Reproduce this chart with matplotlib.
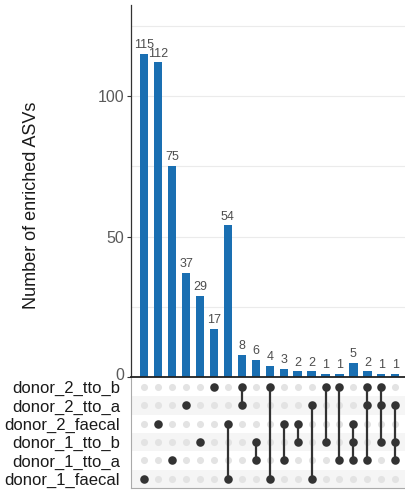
import matplotlib
matplotlib.use("Agg")
import matplotlib.pyplot as plt
import matplotlib.transforms as mtrans
import numpy as np

plt.rcParams['font.family'] = ['Liberation Sans', 'DejaVu Sans']

sets = ["donor_2_tto_b", "donor_2_tto_a", "donor_2_faecal",
        "donor_1_tto_b", "donor_1_tto_a", "donor_1_faecal"]
counts = [115, 112, 75, 37, 29, 17, 54, 8, 6, 4, 3, 2, 2, 1, 1, 5, 2, 1, 1]
members = [
    ["donor_1_faecal"],
    ["donor_2_faecal"],
    ["donor_1_tto_a"],
    ["donor_2_tto_a"],
    ["donor_1_tto_b"],
    ["donor_2_tto_b"],
    ["donor_2_faecal", "donor_1_faecal"],
    ["donor_2_tto_b", "donor_2_tto_a"],
    ["donor_1_tto_b", "donor_1_tto_a"],
    ["donor_2_tto_b", "donor_1_faecal"],
    ["donor_2_faecal", "donor_1_tto_a"],
    ["donor_2_faecal", "donor_1_tto_b"],
    ["donor_2_tto_a", "donor_1_faecal"],
    ["donor_2_tto_b", "donor_1_tto_b"],
    ["donor_2_tto_b", "donor_1_tto_a"],
    ["donor_2_faecal", "donor_1_tto_b", "donor_1_tto_a"],
    ["donor_2_tto_b", "donor_2_tto_a", "donor_1_tto_a"],
    ["donor_2_tto_b", "donor_2_tto_a", "donor_1_tto_b"],
    ["donor_2_tto_a", "donor_1_tto_b", "donor_1_tto_a"],
]
y_ticks = [0, 50, 100]

W, H = 406, 493
fig = plt.figure(figsize=(W / 100, H / 100), dpi=100)

def ax_rect(l, t, r, b):
    return [l / W, 1 - b / H, (r - l) / W, (b - t) / H]

bar_col = "#1a6fb2"
dark = "#333333"
n = len(counts)
x = np.arange(n)
xlim = (-0.95, n - 1 + 0.7)

# bar axes
ax = fig.add_axes(ax_rect(131, 5, 405, 377))
ax.bar(x, counts, width=0.6, color=bar_col, zorder=3)
for xi, c in zip(x, counts):
    ax.annotate(str(c), (xi, c), xytext=(0, 2), textcoords="offset points",
                ha="center", va="bottom", fontsize=9, color="#4d4d4d")
ax.set_xlim(*xlim)
ax.set_ylim(0, 132.4)
ax.set_yticks(y_ticks)
ax.tick_params(axis="y", which="major", length=3, width=0.8, color=dark,
               labelsize=11.5, labelcolor="#5a5a5a", pad=2)
ax.set_xticks([])
for yv in [25, 50, 75, 100, 125]:
    ax.axhline(yv, color="#ebebeb", lw=0.8, zorder=0)
for s in ["top", "right"]:
    ax.spines[s].set_visible(False)
ax.spines["left"].set_color(dark)
ax.spines["left"].set_linewidth(0.9)
ax.spines["bottom"].set_color("#222222")
ax.spines["bottom"].set_linewidth(1.3)
ax.spines["bottom"].set_zorder(4)
fig.canvas.draw()
zero_lbl = ax.get_yticklabels()[0]
zero_lbl.set_transform(zero_lbl.get_transform() +
                       mtrans.ScaledTranslation(0, 3 / 100, fig.dpi_scale_trans))
fig.text(32 / W, 1 - 205 / H, "Number of enriched ASVs", rotation=90,
         ha="center", va="center", fontsize=13, color="#1a1a1a")

# matrix axes
mx = fig.add_axes(ax_rect(131, 378, 405, 488))
nr = len(sets)
mx.set_xlim(*xlim)
mx.set_ylim(nr - 0.5, -0.5)
for r in range(nr):
    if r % 2 == 1:
        mx.axhspan(r - 0.5, r + 0.5, color="#f5f5f5", lw=0, zorder=0)
xx, yy = np.meshgrid(x, np.arange(nr))
mx.scatter(xx.ravel(), yy.ravel(), s=26, color="#e3e3e3", lw=0, zorder=1)
for xi, mem in enumerate(members):
    rows = [sets.index(m) for m in mem]
    if len(rows) > 1:
        mx.plot([xi, xi], [min(rows), max(rows)], color=dark, lw=1.6,
                zorder=2, solid_capstyle="butt")
    mx.scatter([xi] * len(rows), rows, s=38, color=dark, lw=0, zorder=3)
mx.set_xticks([])
mx.set_yticks(range(nr))
mx.set_yticklabels(sets, fontsize=12, color="#1a1a1a")
mx.tick_params(axis="y", length=0, pad=8)
for s in ["top", "right"]:
    mx.spines[s].set_visible(False)
for s in ["left", "bottom"]:
    mx.spines[s].set_color("#aaaaaa")
    mx.spines[s].set_linewidth(0.8)

fig.savefig("out.png", dpi=100)
